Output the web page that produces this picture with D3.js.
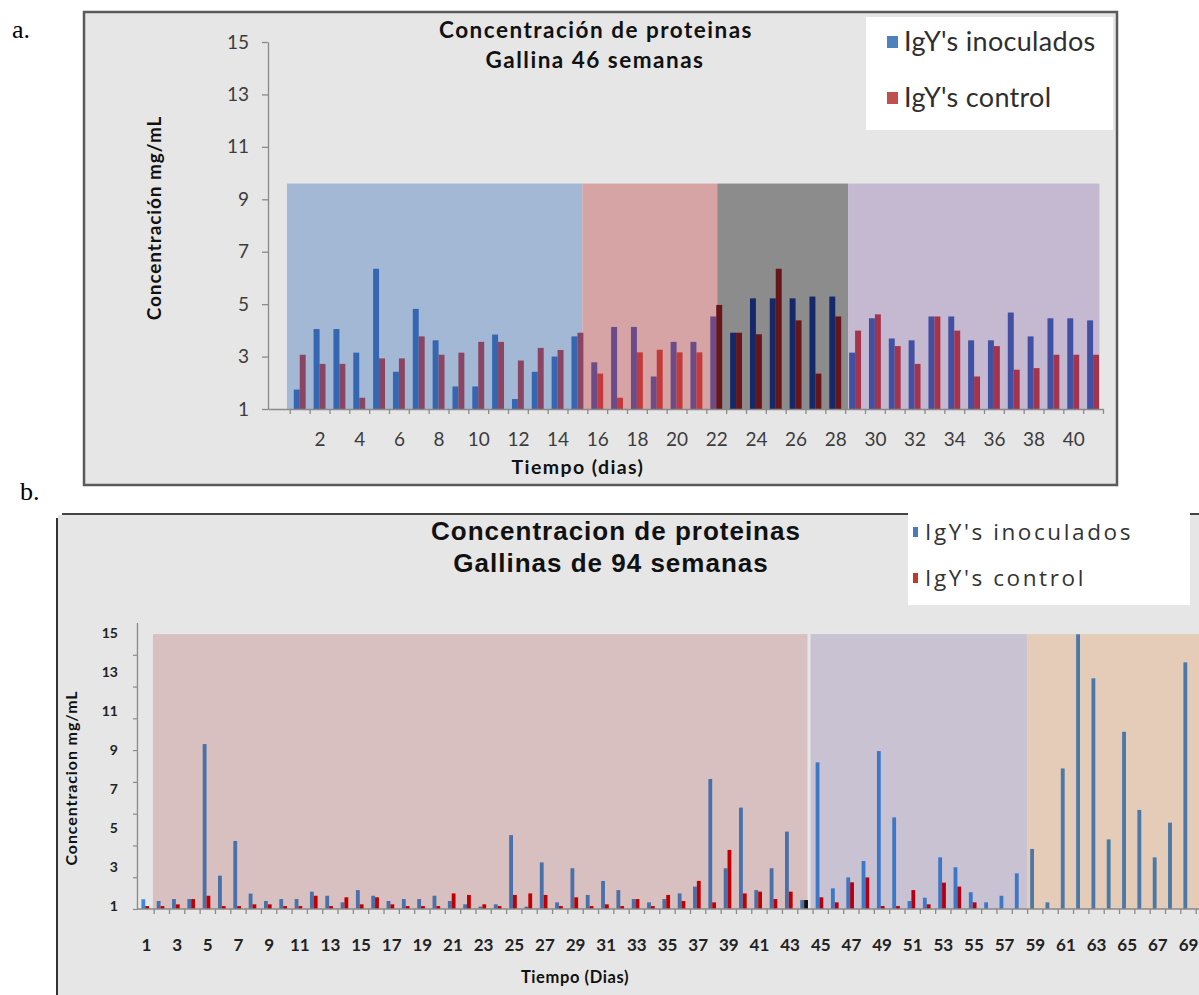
<!DOCTYPE html>
<html>
<head>
<meta charset="utf-8">
<script src="https://cdn.jsdelivr.net/npm/d3@7"></script>
<style>
  html, body { margin: 0; padding: 0; background: #ffffff; }
  svg { display: block; }
</style>
</head>
<body>
<svg id="fig" width="1199" height="995"></svg>
<script>
// ---------- Panel a: hens of 46 weeks ----------
const daysA = [1,2,3,4,5,6,7,8,9,10,11,12,13,14,15,16,17,18,19,20,21,22,23,24,25,26,27,28,29,30,31,32,33,34,35,36,37,38,39,40,41];
const inoculadosA = [1.74,4.05,4.05,3.15,6.35,2.42,4.82,3.62,1.86,1.86,3.84,1.38,2.42,3.00,3.77,
                     2.78,4.13,4.13,2.24,3.56,3.56,4.53,3.91,5.22,5.22,5.22,5.29,5.29,
                     3.15,4.46,3.69,3.62,4.53,4.53,3.62,3.62,4.68,3.77,4.46,4.46,4.38];
const controlA    = [3.07,2.72,2.72,1.43,2.93,2.93,3.77,3.07,3.15,3.56,3.56,2.85,3.33,3.25,3.91,
                     2.35,1.43,3.16,3.26,3.16,3.16,4.97,3.91,3.85,6.35,4.38,2.35,4.53,
                     3.99,4.61,3.40,2.72,4.53,3.99,2.24,3.40,2.50,2.56,3.07,3.07,3.07];
const yTicksA = [1,3,5,7,9,11,13,15];
const xLabelsA = [2,4,6,8,10,12,14,16,18,20,22,24,26,28,30,32,34,36,38,40];
// shaded periods, in day units, and their height in mg/mL
const phaseNamesA = ['p1','p2','p3','p4'];
const phaseFromA  = [0.36, 15.25, 22.05, 28.65];
const phaseToA    = [15.25, 22.05, 28.65, 41.32];
const phaseTopA = 9.6;

// ---------- Panel b: hens of 94 weeks ----------
const daysB = [1,2,3,4,5,6,7,8,9,10,11,12,13,14,15,16,17,18,19,20,21,22,23,24,25,26,27,28,29,30,31,32,33,34,35,
               36,37,38,39,40,41,42,43,44,45,46,47,48,49,50,51,52,53,54,55,56,57,58,59,60,61,62,63,64,65,66,67,68,69];
const inoculadosB = [1.50,1.41,1.51,1.51,9.46,2.71,4.49,1.79,1.41,1.51,1.51,1.89,1.68,1.34,1.97,1.68,1.41,
                     1.51,1.51,1.68,1.41,1.24,1.12,1.24,4.79,1.12,3.39,1.34,3.09,1.72,2.44,1.97,1.51,1.34,
                     1.51,1.80,2.15,7.67,3.09,6.20,1.97,3.09,4.97,1.46,8.52,2.06,2.62,3.46,9.10,5.70,1.41,
                     1.58,3.65,3.14,1.86,1.34,1.68,2.83,4.08,1.34,8.21,15.09,12.83,4.57,10.09,6.08,3.65,5.43,13.65];
const controlB    = [1.15,1.15,1.24,1.51,1.68,1.15,1.15,1.24,1.24,1.15,1.15,1.68,1.15,1.60,1.24,1.60,1.24,
                     1.15,1.15,1.15,1.80,1.72,1.24,1.15,1.72,1.80,1.72,1.15,1.60,1.15,1.24,1.15,1.51,1.15,
                     1.72,1.41,2.44,1.34,4.03,1.80,1.89,1.51,1.89,1.46,1.60,1.34,2.37,2.62,1.15,1.15,1.97,
                     1.24,2.35,2.15,1.34,null,null,null,null,null,null,null,null,null,null,null,null,null,null];
const yTicksB = [1,3,5,7,9,11,13,15];
const xLabelsB = [1,3,5,7,9,11,13,15,17,19,21,23,25,27,29,31,33,35,37,39,41,43,45,47,49,51,53,55,57,59,61,63,65,67,69];
const phaseNamesB = ['q1','q2','q3'];
const phaseFromB  = [1.45, 44.37, 58.5];
const phaseToB    = [44.17, 58.5, 70];
const phaseTopB = 15.1;
const markedDayB = 44;

// ---------- colours ----------
const legendBlue = '#4f81bd', legendRed = '#c0504d';
const styleA = {
  p1: { bg: '#a3b8d5', inoc: '#3566b1', ctrl: '#8a4562' },
  p2: { bg: '#d6a4a4', inoc: '#6b4b88', ctrl: '#c23a3a' },
  p3: { bg: '#8c8c8c', inoc: '#15296a', ctrl: '#661519' },
  p4: { bg: '#c4b9d1', inoc: '#4150a2', ctrl: '#a3344c' }
};
const styleB = {
  none: { inoc: '#3e8ad2', ctrl: '#c00000' },
  q1: { bg: '#d8c0c0', inoc: '#4a70aa', ctrl: '#c00000' },
  q2: { bg: '#c9c2d3', inoc: '#3c78c6', ctrl: '#b20010' },
  q3: { bg: '#e4ccb8', inoc: '#4a78a8', ctrl: '#c00000' }
};

const svg = d3.select('#fig');

function phases(names, from, to) {
  return names.map((n, i) => ({ name: n, from: from[i], to: to[i] }));
}
function phaseAt(list, pos) {
  return list.find(p => pos >= p.from && pos < p.to);
}

// =============== Panel a ===============
svg.append('text').attr('x', 12).attr('y', 38)
  .attr('font-family', '"Liberation Serif", serif').attr('font-size', 26).attr('fill', '#000').text('a.');

const gA = svg.append('g');
gA.append('rect').attr('x', 84).attr('y', 12).attr('width', 1033).attr('height', 473)
  .attr('fill', '#e6e6e6').attr('stroke', '#5a5a5a').attr('stroke-width', 2.5);

const xA = d3.scaleLinear().domain([-0.6, 41.5]).range([268, 1103]);
const yA = d3.scaleLinear().domain([1, 15]).range([409, 42]);
const listA = phases(phaseNamesA, phaseFromA, phaseToA);

gA.append('g').selectAll('rect').data(listA).join('rect')
  .attr('x', d => xA(d.from)).attr('width', d => xA(d.to) - xA(d.from))
  .attr('y', yA(phaseTopA)).attr('height', yA(1) - yA(phaseTopA))
  .attr('fill', d => styleA[d.name].bg);

const bwA = 0.3;
[{ key: 'inoc', values: inoculadosA, off: -bwA }, { key: 'ctrl', values: controlA, off: 0 }].forEach(s => {
  gA.append('g').selectAll('rect')
    .data(daysA.map((d, i) => ({ day: d, v: s.values[i] })).filter(d => d.v != null))
    .join('rect')
    .attr('x', d => xA(d.day + s.off)).attr('width', xA(bwA) - xA(0))
    .attr('y', d => yA(d.v)).attr('height', d => yA(1) - yA(d.v))
    .attr('fill', d => {
      const p = phaseAt(listA, d.day + s.off + bwA / 2);
      return p ? styleA[p.name][s.key] : (s.key === 'inoc' ? legendBlue : legendRed);
    });
});

// axes of panel a
const yAxisA = gA.append('g').attr('transform', `translate(${xA(-0.6)},0)`)
  .call(d3.axisLeft(yA).tickValues(yTicksA).tickSize(6).tickPadding(13).tickSizeOuter(0));
const xTicksA = gA.append('g').attr('transform', `translate(0,${yA(1)})`)
  .call(d3.axisBottom(xA).tickValues(d3.range(0.5, 42, 1)).tickFormat('').tickSize(5).tickSizeOuter(0));
const xLabA = gA.append('g').attr('transform', `translate(0,${yA(1)})`)
  .call(d3.axisBottom(xA).tickValues(xLabelsA).tickSize(0).tickPadding(24));
xLabA.select('.domain').remove();
[yAxisA, xTicksA].forEach(a => { a.selectAll('path,line').attr('stroke', '#8a8a8a').attr('stroke-width', 1.3); });
[yAxisA, xLabA].forEach(a => {
  a.selectAll('text').attr('font-family', 'Lato, sans-serif').attr('font-size', 19).attr('fill', '#3c3c3c');
});

gA.append('text').attr('transform', 'translate(161,218) rotate(-90)').attr('text-anchor', 'middle')
  .attr('font-family', 'Lato, sans-serif').attr('font-weight', 700).attr('font-size', 19)
  .attr('letter-spacing', 0.9).attr('fill', '#111')
  .text('Concentración mg/mL');
gA.append('text').attr('x', 578).attr('y', 474).attr('text-anchor', 'middle')
  .attr('font-family', 'Lato, sans-serif').attr('font-weight', 700).attr('font-size', 19.5)
  .attr('letter-spacing', 1.4).attr('fill', '#111')
  .text('Tiempo (dias)');

const titleA = gA.append('text').attr('text-anchor', 'middle')
  .attr('font-family', 'Lato, sans-serif').attr('font-weight', 700).attr('font-size', 22.5)
  .attr('letter-spacing', 1.5).attr('fill', '#111');
titleA.append('tspan').attr('x', 596).attr('y', 38).text('Concentración de proteinas');
titleA.append('tspan').attr('x', 595).attr('y', 68).text('Gallina 46 semanas');

// legend a
const legA = gA.append('g');
legA.append('rect').attr('x', 866).attr('y', 17).attr('width', 247).attr('height', 113).attr('fill', '#ffffff');
[{ label: "IgY's inoculados", c: legendBlue, y: 42 }, { label: "IgY's control", c: legendRed, y: 98 }].forEach(e => {
  legA.append('rect').attr('x', 887).attr('y', e.y - 6).attr('width', 11).attr('height', 12).attr('fill', e.c);
  legA.append('text').attr('x', 904).attr('y', e.y + 9)
    .attr('font-family', 'Lato, sans-serif').attr('font-size', 27).attr('letter-spacing', 0.3)
    .attr('fill', '#2e2e2e').text(e.label);
});

// =============== Panel b ===============
svg.append('text').attr('x', 20).attr('y', 500)
  .attr('font-family', '"Liberation Serif", serif').attr('font-size', 26).attr('fill', '#000').text('b.');

const gB = svg.append('g');
gB.append('rect').attr('x', 58).attr('y', 515).attr('width', 1141).attr('height', 480).attr('fill', '#e6e6e6');
gB.append('line').attr('x1', 62).attr('x2', 1199).attr('y1', 514).attr('y2', 514).attr('stroke', '#444').attr('stroke-width', 2);
gB.append('line').attr('x1', 57).attr('x2', 57).attr('y1', 518).attr('y2', 995).attr('stroke', '#333').attr('stroke-width', 2);

const xB = d3.scaleLinear().domain([1, 69]).range([146, 1188]);
const yB = d3.scaleLinear().domain([1, 15.7]).range([909, 622.4]);
const listB = phases(phaseNamesB, phaseFromB, phaseToB);
const axisXB = xB(0.41);

gB.append('g').selectAll('rect').data(listB).join('rect')
  .attr('x', d => xB(d.from)).attr('width', d => Math.min(xB(d.to), 1199) - xB(d.from))
  .attr('y', yB(phaseTopB)).attr('height', yB(1) - yB(phaseTopB))
  .attr('fill', d => styleB[d.name].bg);

const bwB = 0.25;
[{ key: 'inoc', values: inoculadosB, off: -0.3 }, { key: 'ctrl', values: controlB, off: -0.05 }].forEach(s => {
  gB.append('g').selectAll('rect')
    .data(daysB.map((d, i) => ({ day: d, v: s.values[i] })).filter(d => d.v != null))
    .join('rect')
    .attr('x', d => xB(d.day + s.off)).attr('width', xB(bwB) - xB(0))
    .attr('y', d => yB(d.v)).attr('height', d => yB(1) - yB(d.v))
    .attr('fill', d => {
      if (d.day === markedDayB && s.key === 'ctrl') return '#111111';
      const p = phaseAt(listB, d.day + s.off + bwB / 2);
      return styleB[p ? p.name : 'none'][s.key];
    });
});

// axes of panel b
const yLabB = gB.append('g').attr('transform', `translate(${axisXB},0)`)
  .call(d3.axisLeft(yB).tickValues(yTicksB).tickSize(0).tickPadding(19));
yLabB.select('.domain').attr('stroke', '#8a8a8a').attr('stroke-width', 1.3);
yLabB.selectAll('text').attr('font-family', 'Lato, sans-serif').attr('font-weight', 700)
  .attr('font-size', 14).attr('fill', '#222').attr('dy', '0.12em');
const yMarksB = gB.append('g').attr('transform', `translate(${axisXB},0)`)
  .call(d3.axisLeft(yB).tickValues(d3.range(9).map(i => 1 + i * 1.63)).tickFormat('').tickSize(4).tickSizeOuter(0));
yMarksB.select('.domain').remove();
yMarksB.selectAll('line').attr('stroke', '#8a8a8a').attr('stroke-width', 1.2);

gB.append('line').attr('x1', axisXB).attr('x2', 1199).attr('y1', yB(1)).attr('y2', yB(1))
  .attr('stroke', '#8a8a8a').attr('stroke-width', 1.5);
const xTicksB = gB.append('g').attr('transform', `translate(0,${yB(1)})`)
  .call(d3.axisBottom(xB).tickValues(d3.range(1.5, 70, 1)).tickFormat('').tickSize(5).tickSizeOuter(0));
xTicksB.select('.domain').remove();
xTicksB.selectAll('line').attr('stroke', '#8a8a8a').attr('stroke-width', 1.3);
const xLabB = gB.append('g').attr('transform', `translate(0,${yB(1)})`)
  .call(d3.axisBottom(xB).tickValues(xLabelsB).tickSize(0).tickPadding(30));
xLabB.select('.domain').remove();
xLabB.selectAll('text').attr('font-family', 'Lato, sans-serif').attr('font-weight', 700)
  .attr('font-size', 17).attr('fill', '#222');

gB.append('text').attr('transform', 'translate(77,778) rotate(-90)').attr('text-anchor', 'middle')
  .attr('font-family', 'Lato, sans-serif').attr('font-weight', 700).attr('font-size', 16)
  .attr('letter-spacing', 0.9).attr('fill', '#111').text('Concentracion  mg/mL');
gB.append('text').attr('x', 575).attr('y', 983).attr('text-anchor', 'middle')
  .attr('font-family', 'Lato, sans-serif').attr('font-weight', 700).attr('font-size', 16.5)
  .attr('letter-spacing', 0.6).attr('fill', '#111')
  .text('Tiempo (Dias)');

const titleB = gB.append('text').attr('text-anchor', 'middle')
  .attr('font-family', '"Liberation Sans", Arial, sans-serif').attr('font-weight', 700).attr('font-size', 26)
  .attr('letter-spacing', 1).attr('fill', '#111');
titleB.append('tspan').attr('x', 616).attr('y', 540).text('Concentracion de proteinas');
titleB.append('tspan').attr('x', 611).attr('y', 572).text('Gallinas de 94 semanas');

// legend b
const legB = gB.append('g');
legB.append('rect').attr('x', 908).attr('y', 500).attr('width', 282).attr('height', 105).attr('fill', '#ffffff');
[{ label: "IgY's inoculados", c: '#4a78b8', y: 532 }, { label: "IgY's control", c: '#c0392b', y: 578 }].forEach(e => {
  legB.append('rect').attr('x', 913).attr('y', e.y - 5).attr('width', 5).attr('height', 10).attr('fill', e.c);
  legB.append('text').attr('x', 925).attr('y', e.y + 8)
    .attr('font-family', '"Open Sans", sans-serif').attr('font-size', 22.5).attr('letter-spacing', 2.6)
    .attr('fill', '#333').text(e.label);
});
</script>
</body>
</html>
